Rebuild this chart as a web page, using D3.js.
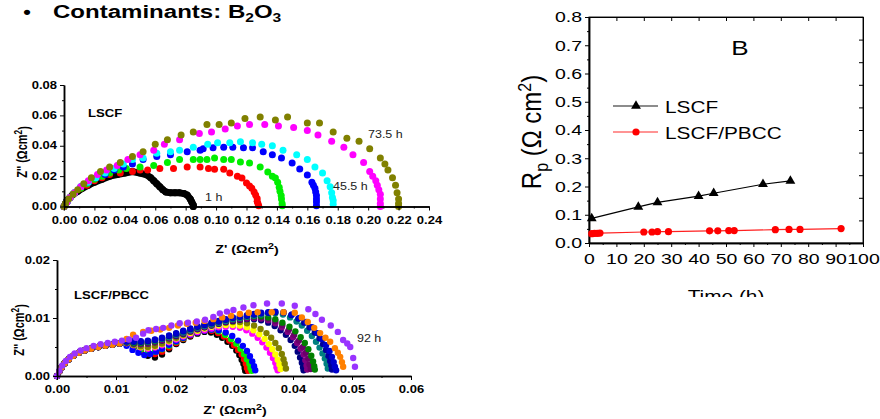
<!DOCTYPE html>
<html>
<head>
<meta charset="utf-8">
<script src="https://cdn.jsdelivr.net/npm/d3@7"></script>
<style>
body { margin: 0; background: #fff; }
svg { display: block; font-family: Arial, "Liberation Sans", sans-serif; }
</style>
</head>
<body>
<svg id="chart" width="880" height="419"></svg>
<script>
////////////
//  DATA  //
////////////
// panel B : polarisation resistance vs time
var lscfTime = [1, 18, 25, 40, 45.5, 63.5, 73.5];
var lscfRp = [0.087, 0.128, 0.144, 0.166, 0.176, 0.208, 0.220];
var pbccTime = [1, 2, 3, 4, 20, 23, 25, 29, 44, 47, 51, 53, 68, 73, 77, 92];
var pbccRp = [0.033, 0.034, 0.034, 0.035, 0.039, 0.039, 0.040, 0.040, 0.043, 0.043, 0.044, 0.044, 0.047, 0.048, 0.048, 0.051];
var rpTicks = [0, 0.1, 0.2, 0.3, 0.4, 0.5, 0.6, 0.7, 0.8];
var timeTicks = [0, 10, 20, 30, 40, 50, 60, 70, 80, 90, 100];

// LSCF impedance spectra [Z', Z''] (ohm cm2)
var lscfBlack = [[0,0],[0.001,0.002],[0.002,0.004],[0.004,0.006],[0.006,0.008],[0.009,0.010],[0.012,0.012],[0.016,0.014],[0.02,0.016],[0.025,0.018],[0.03,0.020],[0.035,0.021],[0.04,0.022],[0.045,0.023],[0.05,0.022],[0.054,0.021],[0.057,0.019],[0.059,0.017],[0.061,0.015],[0.063,0.013],[0.065,0.011],[0.067,0.0095],[0.07,0.009],[0.073,0.009],[0.076,0.009],[0.079,0.0085],[0.081,0.0075],[0.083,0.005],[0.084,0.003],[0.085,0.001],[0.085,0]];
var lscfRed = [[0,0],[0.002,0.003],[0.004,0.006],[0.007,0.009],[0.011,0.012],[0.015,0.014],[0.02,0.017],[0.025,0.019],[0.03,0.021],[0.037,0.022],[0.045,0.023],[0.05,0.024],[0.055,0.024],[0.063,0.025],[0.072,0.025],[0.081,0.026],[0.0895,0.026],[0.095,0.025],[0.099,0.0245],[0.105,0.0245],[0.109,0.022],[0.114,0.020],[0.117,0.0187],[0.12,0.0155],[0.122,0.0135],[0.1235,0.012],[0.125,0.0095],[0.126,0.0075],[0.127,0.0053],[0.127,0.0035],[0.1275,0.002],[0.128,0.0005]];
var lscfGreen = [[0,0],[0.002,0.003],[0.004,0.006],[0.007,0.009],[0.011,0.012],[0.015,0.015],[0.02,0.018],[0.025,0.020],[0.03,0.022],[0.036,0.024],[0.041,0.025],[0.05,0.026],[0.059,0.027],[0.068,0.029],[0.076,0.031],[0.085,0.031],[0.0895,0.031],[0.094,0.031],[0.099,0.032],[0.105,0.031],[0.11,0.031],[0.116,0.0293],[0.122,0.0287],[0.129,0.026],[0.134,0.0227],[0.137,0.020],[0.139,0.0187],[0.1405,0.016],[0.1415,0.0127],[0.142,0.010],[0.1428,0.0073],[0.143,0.005],[0.1434,0.002],[0.1435,0.0005]];
var lscfBlue = [[0,0],[0.002,0.003],[0.004,0.006],[0.007,0.009],[0.011,0.013],[0.016,0.016],[0.021,0.019],[0.027,0.021],[0.033,0.024],[0.039,0.026],[0.045,0.028],[0.052,0.031],[0.061,0.033],[0.07,0.034],[0.081,0.036],[0.0895,0.037],[0.0915,0.038],[0.098,0.0387],[0.105,0.039],[0.111,0.039],[0.118,0.0387],[0.124,0.0387],[0.131,0.036],[0.137,0.034],[0.143,0.032],[0.15,0.0287],[0.155,0.0247],[0.16,0.0207],[0.163,0.016],[0.164,0.014],[0.165,0.012],[0.1655,0.0095],[0.166,0.0073],[0.166,0.005],[0.166,0.003],[0.166,0.0005]];
var lscfCyan = [[0,0],[0.002,0.003],[0.004,0.006],[0.007,0.009],[0.011,0.013],[0.016,0.016],[0.021,0.019],[0.027,0.022],[0.033,0.025],[0.039,0.028],[0.045,0.031],[0.052,0.032],[0.061,0.035],[0.07,0.036],[0.076,0.037],[0.085,0.039],[0.0945,0.041],[0.101,0.042],[0.109,0.042],[0.116,0.0427],[0.124,0.042],[0.130,0.041],[0.137,0.040],[0.144,0.037],[0.153,0.034],[0.160,0.031],[0.165,0.026],[0.170,0.022],[0.173,0.017],[0.175,0.013],[0.176,0.009],[0.1765,0.006],[0.177,0.004],[0.177,0.0015]];
var lscfMagenta = [[0,0],[0.002,0.003],[0.004,0.006],[0.007,0.009],[0.011,0.013],[0.016,0.017],[0.022,0.021],[0.028,0.024],[0.035,0.027],[0.042,0.031],[0.05,0.034],[0.059,0.037],[0.066,0.041],[0.076,0.044],[0.089,0.048],[0.097,0.049],[0.106,0.051],[0.114,0.053],[0.122,0.054],[0.132,0.054],[0.141,0.053],[0.151,0.052],[0.16,0.05],[0.167,0.047],[0.176,0.043],[0.184,0.039],[0.19,0.034],[0.197,0.029],[0.201,0.023],[0.203,0.02],[0.205,0.017],[0.206,0.014],[0.207,0.011],[0.208,0.008],[0.208,0.005],[0.208,0.002],[0.208,0]];
var lscfOlive = [[0,0],[0.001,0.002],[0.003,0.005],[0.006,0.008],[0.009,0.011],[0.013,0.015],[0.018,0.019],[0.024,0.023],[0.03,0.026],[0.037,0.029],[0.045,0.033],[0.052,0.036],[0.06,0.041],[0.068,0.044],[0.077,0.047],[0.085,0.049],[0.094,0.054],[0.102,0.054],[0.11,0.055],[0.119,0.058],[0.129,0.059],[0.139,0.057],[0.147,0.059],[0.16,0.055],[0.168,0.055],[0.177,0.049],[0.186,0.045],[0.194,0.043],[0.201,0.038],[0.208,0.032],[0.211,0.028],[0.213,0.024],[0.216,0.019],[0.218,0.014],[0.219,0.009],[0.220,0.005],[0.220,0.002],[0.220,0]];
var lscfXTicks = [0, 0.02, 0.04, 0.06, 0.08, 0.10, 0.12, 0.14, 0.16, 0.18, 0.20, 0.22, 0.24];
var lscfYTicks = [0, 0.02, 0.04, 0.06, 0.08];

// LSCF/PBCC impedance spectra, high frequency arc shared by most runs
var pbccStart = [[0,0],[0.0004,0.0008],[0.0008,0.0015],[0.0013,0.0022],[0.002,0.0029],[0.0028,0.0035],[0.0037,0.004],[0.0047,0.0044],[0.0058,0.0047],[0.007,0.005],[0.0082,0.0052],[0.0094,0.0054],[0.0106,0.0056]];
var pbccBlack = [[0.0118,0.0055],[0.013,0.0049],[0.0142,0.0042],[0.0154,0.0035],[0.0166,0.0032],[0.0178,0.0037],[0.019,0.0046],[0.0202,0.0055],[0.0214,0.0062],[0.0226,0.0068],[0.0238,0.0073],[0.025,0.0076],[0.0261,0.0075],[0.0271,0.0071],[0.028,0.0066],[0.0289,0.0059],[0.0297,0.0052],[0.0304,0.0044],[0.0309,0.0036],[0.0313,0.0028],[0.0316,0.0021],[0.0318,0.0014],[0.0319,0.0009]];
var pbccRed = [[0.0118,0.0056],[0.013,0.005],[0.0142,0.0044],[0.0154,0.0039],[0.0166,0.0038],[0.0178,0.0042],[0.019,0.0049],[0.0202,0.0057],[0.0214,0.0064],[0.0226,0.007],[0.0238,0.0075],[0.025,0.0078],[0.0262,0.0078],[0.0273,0.0074],[0.0283,0.0068],[0.0292,0.0061],[0.03,0.0053],[0.0307,0.0045],[0.0313,0.0037],[0.0317,0.0029],[0.032,0.0021],[0.0322,0.0014],[0.0324,0.0009]];
var pbccGreen = [[0.0118,0.0056],[0.013,0.0051],[0.0142,0.0046],[0.0154,0.0042],[0.0166,0.0042],[0.0178,0.0046],[0.019,0.0052],[0.0202,0.0059],[0.0214,0.0065],[0.0226,0.0071],[0.0238,0.0076],[0.025,0.0079],[0.0262,0.008],[0.0274,0.0077],[0.0285,0.0071],[0.0295,0.0064],[0.0304,0.0056],[0.0311,0.0047],[0.0317,0.0038],[0.0322,0.0029],[0.0326,0.0021],[0.0328,0.0014],[0.033,0.0009]];
var pbccBlue = [[0.0118,0.0052],[0.0128,0.0045],[0.0138,0.004],[0.0148,0.0036],[0.0158,0.0038],[0.0168,0.0042],[0.0178,0.0047],[0.019,0.0054],[0.0202,0.006],[0.0214,0.0066],[0.0226,0.0071],[0.0238,0.0075],[0.025,0.0078],[0.0262,0.008],[0.0274,0.0079],[0.0286,0.0075],[0.0297,0.0069],[0.0307,0.0061],[0.0315,0.0052],[0.0322,0.0043],[0.0327,0.0034],[0.0331,0.0025],[0.0334,0.0017],[0.0336,0.001]];
var pbccMagenta = [[0.0118,0.0057],[0.013,0.0053],[0.0142,0.0049],[0.0154,0.0047],[0.0166,0.0049],[0.0178,0.0053],[0.019,0.0058],[0.0202,0.0063],[0.0214,0.0068],[0.0226,0.0072],[0.0238,0.0076],[0.025,0.0079],[0.0262,0.0082],[0.0274,0.0084],[0.0286,0.0085],[0.0298,0.0085],[0.031,0.0083],[0.0321,0.0079],[0.0331,0.0073],[0.034,0.0066],[0.0348,0.0058],[0.0355,0.0049],[0.0361,0.004],[0.0366,0.0031],[0.037,0.0023],[0.0372,0.0015],[0.0374,0.001]];
var pbccYellow = [[0.0118,0.0057],[0.013,0.0054],[0.0142,0.005],[0.0154,0.0049],[0.0166,0.0051],[0.0178,0.0055],[0.019,0.006],[0.0202,0.0065],[0.0214,0.007],[0.0226,0.0074],[0.0238,0.0078],[0.025,0.0082],[0.0262,0.0085],[0.0274,0.0087],[0.0286,0.0088],[0.0298,0.0088],[0.031,0.0087],[0.0322,0.0084],[0.0333,0.0079],[0.0343,0.0072],[0.0352,0.0064],[0.0359,0.0055],[0.0365,0.0046],[0.037,0.0037],[0.0374,0.0028],[0.0377,0.002],[0.0379,0.0012]];
var pbccOlive = [[0.0118,0.0057],[0.013,0.0054],[0.0142,0.0051],[0.0154,0.005],[0.0166,0.0052],[0.0178,0.0056],[0.019,0.0061],[0.0202,0.0066],[0.0214,0.0071],[0.0226,0.0076],[0.0238,0.008],[0.025,0.0084],[0.0262,0.0087],[0.0274,0.009],[0.0286,0.0092],[0.0298,0.0093],[0.031,0.0093],[0.0322,0.0091],[0.0334,0.0087],[0.0345,0.0081],[0.0355,0.0074],[0.0363,0.0066],[0.037,0.0057],[0.0376,0.0048],[0.0381,0.0038],[0.0384,0.0029],[0.0386,0.0021],[0.0388,0.0013]];
var pbccNavy = [[0.0118,0.0058],[0.013,0.0056],[0.0142,0.0055],[0.0154,0.0056],[0.0166,0.0058],[0.0178,0.0061],[0.019,0.0065],[0.0202,0.0069],[0.0214,0.0073],[0.0226,0.0077],[0.0238,0.0081],[0.025,0.0084],[0.0262,0.0087],[0.0274,0.009],[0.0286,0.0093],[0.0298,0.0095],[0.031,0.0097],[0.0322,0.0098],[0.0334,0.0098],[0.0346,0.0096],[0.0358,0.0092],[0.0369,0.0086],[0.0379,0.0079],[0.0388,0.0071],[0.0396,0.0062],[0.0403,0.0052],[0.0408,0.0042],[0.0412,0.0032],[0.0415,0.0023],[0.0417,0.0015],[0.0418,0.001]];
var pbccPurple = [[0.0118,0.0058],[0.013,0.0056],[0.0142,0.0055],[0.0154,0.0056],[0.0166,0.0058],[0.0178,0.0062],[0.019,0.0066],[0.0202,0.007],[0.0214,0.0074],[0.0226,0.0078],[0.0238,0.0082],[0.025,0.0085],[0.0262,0.0088],[0.0274,0.0091],[0.0286,0.0094],[0.0298,0.0096],[0.031,0.0098],[0.0322,0.0099],[0.0334,0.01],[0.0346,0.0099],[0.0358,0.0096],[0.037,0.0091],[0.0381,0.0084],[0.0391,0.0076],[0.04,0.0067],[0.0407,0.0057],[0.0413,0.0047],[0.0418,0.0037],[0.0421,0.0027],[0.0423,0.0018],[0.0424,0.0011]];
var pbccPlum = [[0.0118,0.0058],[0.013,0.0057],[0.0142,0.0056],[0.0154,0.0057],[0.0166,0.0059],[0.0178,0.0063],[0.019,0.0067],[0.0202,0.0071],[0.0214,0.0075],[0.0226,0.0079],[0.0238,0.0083],[0.025,0.0086],[0.0262,0.0089],[0.0274,0.0092],[0.0286,0.0095],[0.0298,0.0097],[0.031,0.0099],[0.0322,0.0101],[0.0334,0.0102],[0.0346,0.0101],[0.0358,0.0099],[0.037,0.0095],[0.0382,0.0088],[0.0393,0.008],[0.0402,0.0071],[0.041,0.0061],[0.0417,0.005],[0.0422,0.004],[0.0426,0.003],[0.0428,0.002],[0.043,0.0012]];
var pbccDarkGreen = [[0.0118,0.0059],[0.013,0.0057],[0.0142,0.0057],[0.0154,0.0058],[0.0166,0.006],[0.0178,0.0064],[0.019,0.0068],[0.0202,0.0072],[0.0214,0.0076],[0.0226,0.008],[0.0238,0.0084],[0.025,0.0087],[0.0262,0.009],[0.0274,0.0093],[0.0286,0.0096],[0.0298,0.0098],[0.031,0.01],[0.0322,0.0102],[0.0334,0.0103],[0.0346,0.0103],[0.0358,0.0101],[0.037,0.0098],[0.0382,0.0092],[0.0394,0.0085],[0.0404,0.0077],[0.0413,0.0067],[0.042,0.0057],[0.0426,0.0046],[0.0431,0.0035],[0.0434,0.0025],[0.0436,0.0017],[0.0437,0.0011]];
var pbccTeal = [[0.0118,0.0059],[0.013,0.0058],[0.0142,0.0058],[0.0154,0.0059],[0.0166,0.0061],[0.0178,0.0064],[0.019,0.0067],[0.0202,0.0071],[0.0214,0.0075],[0.0226,0.0079],[0.0238,0.0083],[0.025,0.0086],[0.0262,0.0089],[0.0274,0.0092],[0.0286,0.0095],[0.0298,0.0098],[0.031,0.01],[0.0322,0.0102],[0.0334,0.0104],[0.0346,0.0106],[0.0358,0.0108],[0.037,0.0108],[0.0383,0.0106],[0.0395,0.0101],[0.0406,0.0094],[0.0415,0.0087],[0.0424,0.0078],[0.0432,0.0069],[0.0439,0.0059],[0.0445,0.0049],[0.045,0.0039],[0.0454,0.003],[0.0457,0.0021],[0.0459,0.0013]];
var pbccNavy2 = [[0.0118,0.006],[0.013,0.0059],[0.0142,0.0059],[0.0154,0.006],[0.0166,0.0062],[0.0178,0.0065],[0.019,0.0069],[0.0202,0.0073],[0.0214,0.0077],[0.0226,0.0081],[0.0238,0.0085],[0.025,0.0088],[0.0262,0.0091],[0.0274,0.0094],[0.0286,0.0097],[0.0298,0.01],[0.031,0.0102],[0.0322,0.0104],[0.0334,0.0106],[0.0346,0.0108],[0.0358,0.0109],[0.037,0.011],[0.0384,0.0109],[0.0397,0.0105],[0.0409,0.0099],[0.0419,0.0092],[0.0428,0.0084],[0.0437,0.0075],[0.0445,0.0065],[0.0451,0.0055],[0.0456,0.0045],[0.046,0.0035],[0.0463,0.0026],[0.0465,0.0018],[0.0466,0.0011]];
var pbccIndigo = [[0.0118,0.006],[0.013,0.006],[0.0142,0.006],[0.0154,0.0061],[0.0166,0.0063],[0.0178,0.0066],[0.019,0.007],[0.0202,0.0074],[0.0214,0.0078],[0.0226,0.0082],[0.0238,0.0086],[0.025,0.0089],[0.0262,0.0092],[0.0274,0.0095],[0.0286,0.0098],[0.0298,0.0101],[0.031,0.0103],[0.0322,0.0105],[0.0334,0.0107],[0.0346,0.0109],[0.0358,0.011],[0.037,0.0111],[0.0384,0.011],[0.0398,0.0106],[0.0411,0.01],[0.0422,0.0093],[0.0432,0.0084],[0.0441,0.0074],[0.0449,0.0064],[0.0456,0.0053],[0.0462,0.0043],[0.0466,0.0033],[0.0469,0.0024],[0.0471,0.0016],[0.0473,0.001]];
var pbccOrange = [[0.0118,0.0064],[0.0129,0.0071],[0.0146,0.0076],[0.016,0.0078],[0.0175,0.008],[0.019,0.0083],[0.0205,0.0087],[0.022,0.009],[0.0235,0.0092],[0.025,0.0095],[0.0265,0.0098],[0.028,0.0101],[0.0295,0.0104],[0.031,0.0107],[0.0325,0.0109],[0.034,0.011],[0.0364,0.011],[0.0384,0.011],[0.0403,0.0109],[0.0415,0.0101],[0.0425,0.0093],[0.0436,0.0083],[0.0446,0.0074],[0.0455,0.0066],[0.0463,0.0059],[0.0471,0.0048],[0.0476,0.004],[0.048,0.0033],[0.0483,0.0024],[0.0485,0.0016]];
var pbccViolet = [[0,0],[0.0004,0.0009],[0.0009,0.0018],[0.0015,0.0026],[0.0022,0.0033],[0.003,0.0039],[0.004,0.0044],[0.005,0.0048],[0.0062,0.0052],[0.0074,0.0055],[0.0086,0.0057],[0.0098,0.0059],[0.011,0.0061],[0.0122,0.0063],[0.0134,0.0066],[0.0146,0.0073],[0.0155,0.0079],[0.0168,0.0081],[0.018,0.0083],[0.0194,0.0087],[0.0208,0.0091],[0.0222,0.0092],[0.0237,0.0094],[0.0251,0.0097],[0.0265,0.0102],[0.0276,0.0108],[0.0288,0.0111],[0.0299,0.0114],[0.0316,0.0118],[0.0333,0.0122],[0.0356,0.0125],[0.0381,0.0125],[0.0403,0.0121],[0.0426,0.0115],[0.0438,0.0107],[0.0449,0.0097],[0.0464,0.0087],[0.0476,0.0076],[0.0485,0.0062],[0.0492,0.0056],[0.0497,0.005],[0.0502,0.0031],[0.0505,0.0016]];
var pbccXTicks = [0, 0.01, 0.02, 0.03, 0.04, 0.05, 0.06];
var pbccYTicks = [0, 0.01, 0.02];

/////////////////
// "CONSTANTS" //
/////////////////
var STRETCH = 1.3;      // the slide was squeezed sideways, text is wide
var AXIS_WIDTH = 1.5;

var svg = d3.select("#chart");

///////////////
// FUNCTIONS //
///////////////
var addText = function(parent, x, y, str, size, weight, anchor, sx) {
	return parent.append("text")
		.attr("transform", "translate(" + x + "," + y + ") scale(" + sx + ",1)")
		.attr("font-size", size)
		.attr("font-weight", weight)
		.attr("text-anchor", anchor)
		.attr("fill", "#000")
		.text(str);
};

// Z' (Ωcm²) with raised 2
var ohmTitle = function(t, head) {
	t.text(head + " (\u03A9cm");
	t.append("tspan").attr("dy", "-0.45em").attr("font-size", "0.75em").text("2");
	t.append("tspan").attr("dy", "0.45em").text(")");
	return t;
};

var styleAxis = function(g, fontSize, weight, sx, left, offset) {
	g.select(".domain").attr("stroke", "#000").attr("stroke-width", AXIS_WIDTH);
	g.selectAll(".tick line").attr("stroke", "#000").attr("stroke-width", 1);
	g.selectAll(".tick text")
		.attr("font-size", fontSize)
		.attr("font-weight", weight)
		.attr("font-family", "Arial, 'Liberation Sans', sans-serif")
		.attr("fill", "#000")
		.attr("transform", "scale(" + sx + ",1)");
	if (left) {
		g.selectAll(".tick text").attr("x", -offset / sx);
	}
};

var nyquistAxes = function(g, x, y, xTicks, xMinor, yTicks, yMinor) {
	var fmt = d3.format(".2f");
	var x0 = x.range()[0];
	var y0 = y.range()[0];
	g.append("g")
		.attr("transform", "translate(0," + y0 + ")")
		.call(d3.axisBottom(x).tickValues(xMinor).tickFormat("").tickSize(2).tickSizeOuter(0))
		.call(styleAxis, 10, "bold", STRETCH, false, 0);
	g.append("g")
		.attr("transform", "translate(" + x0 + ",0)")
		.call(d3.axisLeft(y).tickValues(yMinor).tickFormat("").tickSize(2).tickSizeOuter(0))
		.call(styleAxis, 10, "bold", STRETCH, true, 0);
	g.append("g")
		.attr("transform", "translate(0," + y0 + ")")
		.call(d3.axisBottom(x).tickValues(xTicks).tickFormat(fmt).tickSize(4).tickPadding(6).tickSizeOuter(0))
		.call(styleAxis, 10, "bold", STRETCH, false, 0);
	g.append("g")
		.attr("transform", "translate(" + x0 + ",0)")
		.call(d3.axisLeft(y).tickValues(yTicks).tickFormat(fmt).tickSize(4).tickSizeOuter(0))
		.call(styleAxis, 10, "bold", STRETCH, true, 7);
};

var drawSpectra = function(g, curves, x, y, r) {
	curves.forEach(function(c) {
		if (c.line) {
			g.append("path")
				.datum(c.pts)
				.attr("fill", "none")
				.attr("stroke", c.color)
				.attr("stroke-width", 2 * r)
				.attr("stroke-linejoin", "round")
				.attr("stroke-linecap", "round")
				.attr("d", d3.line().x(function(d) { return x(d[0]); }).y(function(d) { return y(d[1]); }));
		}
		g.selectAll(null)
			.data(c.pts)
			.enter()
			.append("circle")
			.attr("cx", function(d) { return x(d[0]); })
			.attr("cy", function(d) { return y(d[1]); })
			.attr("r", r)
			.attr("fill", c.color);
	});
};

///////////
// TITLE //
///////////
addText(svg, 27, 18, "\u2022", 18, "bold", "middle", 1.2);
var title = addText(svg, 53, 18, "Contaminants: B", 18.5, "bold", "start", STRETCH);
title.append("tspan").attr("dy", 4).attr("font-size", 12).text("2");
title.append("tspan").attr("dy", -4).text("O");
title.append("tspan").attr("dy", 4).attr("font-size", 12).text("3");

////////////////
// LSCF PANEL //
////////////////
var topX = d3.scaleLinear().domain([0, 0.24]).range([64, 429]);
var topY = d3.scaleLinear().domain([0, 0.08]).range([206.5, 85]);
var topG = svg.append("g");
// the 1 h run sits underneath, the others cover its start
drawSpectra(topG, [
	{ pts: lscfBlack, color: "#000000", line: true },
	{ pts: lscfRed, color: "#ff0000" },
	{ pts: lscfGreen, color: "#00ee00" },
	{ pts: lscfBlue, color: "#0000ff" },
	{ pts: lscfCyan, color: "#00ffff" },
	{ pts: lscfMagenta, color: "#ff00ff" },
	{ pts: lscfOlive, color: "#808000" }
], topX, topY, 3.5);
nyquistAxes(topG, topX, topY, lscfXTicks, d3.range(0.01, 0.24, 0.02), lscfYTicks, d3.range(0.01, 0.08, 0.02));
addText(topG, 88, 117, "LSCF", 10.5, "bold", "start", 1.25);
addText(topG, 368, 138, "73.5 h", 10, "normal", "start", 1.25).attr("fill", "#222");
addText(topG, 333, 190, "45.5 h", 10, "normal", "start", 1.25).attr("fill", "#222");
addText(topG, 205, 201, "1 h", 10, "normal", "start", 1.25).attr("fill", "#222");
ohmTitle(addText(topG, 247, 253, "", 11, "bold", "middle", STRETCH), "Z'");
ohmTitle(topG.append("text")
	.attr("transform", "translate(27,152) scale(" + STRETCH + ",1) rotate(-90)")
	.attr("font-size", 11)
	.attr("font-weight", "bold")
	.attr("text-anchor", "middle"), "Z''");

/////////////////////
// LSCF/PBCC PANEL //
/////////////////////
var botX = d3.scaleLinear().domain([0, 0.06]).range([57, 411]);
var botY = d3.scaleLinear().domain([0, 0.02]).range([376, 260]);
var botG = svg.append("g");
drawSpectra(botG, [
	{ pts: pbccStart.concat(pbccBlack), color: "#000000" },
	{ pts: pbccStart.concat(pbccRed), color: "#ff0000" },
	{ pts: pbccStart.concat(pbccGreen), color: "#00ee00" },
	{ pts: pbccStart.concat(pbccBlue), color: "#0000ff" },
	{ pts: pbccStart.concat(pbccMagenta), color: "#ff00ff" },
	{ pts: pbccStart.concat(pbccYellow), color: "#ffff00" },
	{ pts: pbccStart.concat(pbccOlive), color: "#808000" },
	{ pts: pbccStart.concat(pbccNavy), color: "#000080" },
	{ pts: pbccStart.concat(pbccPurple), color: "#800080" },
	{ pts: pbccStart.concat(pbccPlum), color: "#6a006a" },
	{ pts: pbccStart.concat(pbccDarkGreen), color: "#008000" },
	{ pts: pbccStart.concat(pbccTeal), color: "#008080" },
	{ pts: pbccStart.concat(pbccNavy2), color: "#000099" },
	{ pts: pbccStart.concat(pbccIndigo), color: "#0000cc" },
	{ pts: pbccStart.concat(pbccOrange), color: "#ff8000" },
	{ pts: pbccViolet, color: "#9933ff" }
], botX, botY, 3.2);
nyquistAxes(botG, botX, botY, pbccXTicks, d3.range(0.005, 0.06, 0.01), pbccYTicks, [0.005, 0.015]);
addText(botG, 74, 299, "LSCF/PBCC", 10.5, "bold", "start", 1.25);
addText(botG, 357, 342, "92 h", 10, "normal", "start", 1.25).attr("fill", "#222");
ohmTitle(addText(botG, 235, 414, "", 11, "bold", "middle", STRETCH), "Z'");
ohmTitle(botG.append("text")
	.attr("transform", "translate(24,330) scale(" + STRETCH + ",1) rotate(-90)")
	.attr("font-size", 11)
	.attr("font-weight", "bold")
	.attr("text-anchor", "middle"), "Z''");

/////////////
// PANEL B //
/////////////
svg.append("clipPath").attr("id", "clipB")
	.append("rect").attr("x", 500).attr("y", 0).attr("width", 380).attr("height", 297);
var bG = svg.append("g").attr("clip-path", "url(#clipB)");
var bX = d3.scaleLinear().domain([0, 100]).range([589, 863]);
var bY = d3.scaleLinear().domain([0, 0.8]).range([243, 17]);
var bRight = d3.scaleLinear().domain([0, 1]).range([243, 17]);

bG.append("rect")
	.attr("x", bX(0)).attr("y", bY(0.8))
	.attr("width", bX(100) - bX(0)).attr("height", bY(0) - bY(0.8))
	.attr("fill", "none").attr("stroke", "#222").attr("stroke-width", 1);
bG.append("g")
	.attr("transform", "translate(0," + bY(0.8) + ")")
	.call(d3.axisBottom(bX).tickValues(timeTicks).tickFormat("").tickSize(4).tickSizeOuter(0))
	.call(styleAxis, 15, "normal", STRETCH, false, 0);
bG.append("g")
	.attr("transform", "translate(" + bX(100) + ",0)")
	.call(d3.axisLeft(bRight).ticks(10).tickFormat("").tickSize(4).tickSizeOuter(0))
	.call(styleAxis, 15, "normal", STRETCH, false, 0);
bG.selectAll(".domain").attr("stroke-width", 1);
bG.append("g")
	.attr("transform", "translate(0," + bY(0) + ")")
	.call(d3.axisBottom(bX).tickValues(d3.range(5, 100, 10)).tickFormat("").tickSize(2).tickSizeOuter(0))
	.call(styleAxis, 15, "normal", STRETCH, false, 0);
bG.append("g")
	.attr("transform", "translate(" + bX(0) + ",0)")
	.call(d3.axisLeft(bY).tickValues(d3.range(0.05, 0.8, 0.1)).tickFormat("").tickSize(2).tickSizeOuter(0))
	.call(styleAxis, 15, "normal", STRETCH, true, 0);
bG.append("g")
	.attr("transform", "translate(0," + bY(0) + ")")
	.call(d3.axisBottom(bX).tickValues(timeTicks).tickFormat(d3.format("d")).tickSize(4).tickPadding(6).tickSizeOuter(0))
	.call(styleAxis, 15, "normal", STRETCH, false, 0);
bG.append("g")
	.attr("transform", "translate(" + bX(0) + ",0)")
	.call(d3.axisLeft(bY).tickValues(rpTicks).tickFormat(d3.format(".1f")).tickSize(4).tickSizeOuter(0))
	.call(styleAxis, 15, "normal", STRETCH, true, 7);

var lscfPts = lscfTime.map(function(t, i) { return [t, lscfRp[i]]; });
var pbccPts = pbccTime.map(function(t, i) { return [t, pbccRp[i]]; });
var rpLine = d3.line().x(function(d) { return bX(d[0]); }).y(function(d) { return bY(d[1]); });
bG.append("path").datum(pbccPts)
	.attr("fill", "none").attr("stroke", "#ff2020").attr("stroke-width", 1.2).attr("d", rpLine);
bG.append("path").datum(lscfPts)
	.attr("fill", "none").attr("stroke", "#000").attr("stroke-width", 1.2).attr("d", rpLine);
var tri = d3.symbol().type(d3.symbolTriangle).size(42);
bG.selectAll(null).data(lscfPts).enter().append("path")
	.attr("d", tri)
	.attr("transform", function(d) { return "translate(" + bX(d[0]) + "," + bY(d[1]) + ")"; })
	.attr("fill", "#000");
bG.selectAll(null).data(pbccPts).enter().append("circle")
	.attr("cx", function(d) { return bX(d[0]); })
	.attr("cy", function(d) { return bY(d[1]); })
	.attr("r", 3.6)
	.attr("fill", "#ff0000");

// legend
bG.append("line").attr("x1", 613).attr("x2", 658).attr("y1", 106).attr("y2", 106)
	.attr("stroke", "#666").attr("stroke-width", 1.5);
bG.append("path").attr("d", tri).attr("transform", "translate(636,106)").attr("fill", "#000");
addText(bG, 665, 113, "LSCF", 16, "normal", "start", STRETCH);
bG.append("line").attr("x1", 613).attr("x2", 658).attr("y1", 132).attr("y2", 132)
	.attr("stroke", "#ff7070").attr("stroke-width", 1.5);
bG.append("circle").attr("cx", 636).attr("cy", 132).attr("r", 3.6).attr("fill", "#ff0000");
addText(bG, 665, 139, "LSCF/PBCC", 16, "normal", "start", STRETCH);

addText(bG, 740, 55, "B", 20, "normal", "middle", STRETCH);
addText(bG, 726, 302, "Time (h)", 16, "normal", "middle", STRETCH);
var rpTitle = bG.append("text")
	.attr("transform", "translate(541,132) scale(1.15,1) rotate(-90)")
	.attr("font-size", 24)
	.attr("text-anchor", "middle")
	.text("R");
rpTitle.append("tspan").attr("dy", 6).attr("font-size", 16).text("p");
rpTitle.append("tspan").attr("dy", -6).text(" (\u03A9 cm");
rpTitle.append("tspan").attr("dy", -9).attr("font-size", 16).text("2");
rpTitle.append("tspan").attr("dy", 9).text(")");
</script>
</body>
</html>
